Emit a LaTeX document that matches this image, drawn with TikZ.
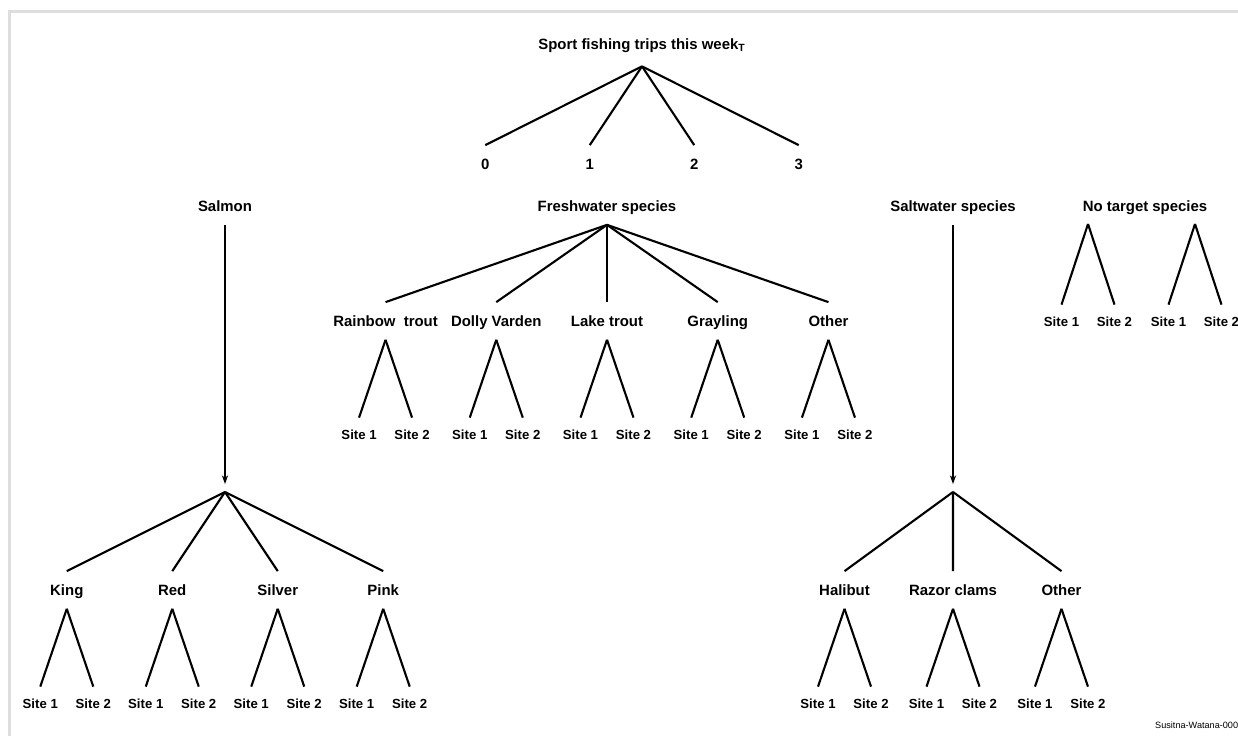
\documentclass[tikz,border=0pt]{standalone}
\usepackage{fontspec}
\setmainfont{Liberation Sans}
\usepackage{tikz}
\usetikzlibrary{trees,arrows.meta}

\begin{document}
\begin{tikzpicture}[
  x=0.02cm, y=-0.02cm,
  parent anchor=south, child anchor=north,
  level 2/.style={sibling distance=1.06cm, level distance=2.28cm},
  edge from parent/.style={draw, line width=1.2pt},
  cat/.style={font=\bfseries\fontsize{8.5}{10}\selectfont, inner sep=0pt, text height=6.1pt, text depth=0pt, minimum height=0.74cm},
  site/.style={font=\bfseries\fontsize{7.5}{9}\selectfont, inner sep=0pt, text height=5.4pt, text depth=0pt, minimum height=0.68cm},
  hub/.style={inner sep=0pt, outer sep=0pt, minimum size=0pt}
  ]
  \useasboundingbox (0,0) rectangle (1238,736);
  \draw[black!13, line width=1.7pt] (9.5,736) |- (1238,11.5);

  \node[cat, minimum height=0.88cm] (trips) at (642,44) {Sport fishing trips this week\textsubscript{T}}
    [sibling distance=2.09cm, level distance=2.4cm]
    child {node[cat] (trip0) {0}}
    child {node[cat] (trip1) {1}}
    child {node[cat] (trip2) {2}}
    child {node[cat] (trip3) {3}};

  \node[cat] (salmon) at (225,206) {Salmon};
  \node[cat] (salt) at (953,206) {Saltwater species};
  \node[cat] (notarget) at (1145,206) {No target species};

  \node[cat] (fresh) at (607,206) {Freshwater species}
    [sibling distance=2.215cm, level distance=2.3cm]
    child {node[cat] (rainbow) {Rainbow~~trout}
      child {node[site] (rainbow1) {Site 1}}
      child {node[site] (rainbow2) {Site 2}}
    }
    child {node[cat] (dolly) {Dolly Varden}
      child {node[site] (dolly1) {Site 1}}
      child {node[site] (dolly2) {Site 2}}
    }
    child {node[cat] (lake) {Lake trout}
      child {node[site] (lake1) {Site 1}}
      child {node[site] (lake2) {Site 2}}
    }
    child {node[cat] (grayling) {Grayling}
      child {node[site] (grayling1) {Site 1}}
      child {node[site] (grayling2) {Site 2}}
    }
    child {node[cat] (freshother) {Other}
      child {node[site] (freshother1) {Site 1}}
      child {node[site] (freshother2) {Site 2}}
    };

  \node[hub] (salmonfork) at (225,492) {}
    [sibling distance=2.11cm, level distance=1.96cm]
    child {node[cat] (king) {King}
      child {node[site] (king1) {Site 1}}
      child {node[site] (king2) {Site 2}}
    }
    child {node[cat] (red) {Red}
      child {node[site] (red1) {Site 1}}
      child {node[site] (red2) {Site 2}}
    }
    child {node[cat] (silver) {Silver}
      child {node[site] (silver1) {Site 1}}
      child {node[site] (silver2) {Site 2}}
    }
    child {node[cat] (pink) {Pink}
      child {node[site] (pink1) {Site 1}}
      child {node[site] (pink2) {Site 2}}
    };

  \node[hub] (saltfork) at (953,492) {}
    [sibling distance=2.17cm, level distance=1.96cm]
    child {node[cat] (halibut) {Halibut}
      child {node[site] (halibut1) {Site 1}}
      child {node[site] (halibut2) {Site 2}}
    }
    child {node[cat] (razor) {Razor clams}
      child {node[site] (razor1) {Site 1}}
      child {node[site] (razor2) {Site 2}}
    }
    child {node[cat] (saltother) {Other}
      child {node[site] (saltother1) {Site 1}}
      child {node[site] (saltother2) {Site 2}}
    };

  \node[hub] (nofork1) at (1088,224) {}
    [sibling distance=1.06cm, level distance=1.96cm]
    child {node[site] (none11) {Site 1}}
    child {node[site] (none12) {Site 2}};
  \node[hub] (nofork2) at (1195,224) {}
    [sibling distance=1.06cm, level distance=1.96cm]
    child {node[site] (none21) {Site 1}}
    child {node[site] (none22) {Site 2}};

  \draw[line width=1.2pt, -{Stealth[length=5pt, width=3.5pt]}, shorten >=4.5pt] (salmon) -- (salmonfork);
  \draw[line width=1.2pt, -{Stealth[length=5pt, width=3.5pt]}, shorten >=4.5pt] (salt) -- (saltfork);

  \node[anchor=base west, font=\fontsize{5.2}{6}\selectfont] (code) at (1149,728) {Susitna-Watana-0004};
\end{tikzpicture}
\end{document}
